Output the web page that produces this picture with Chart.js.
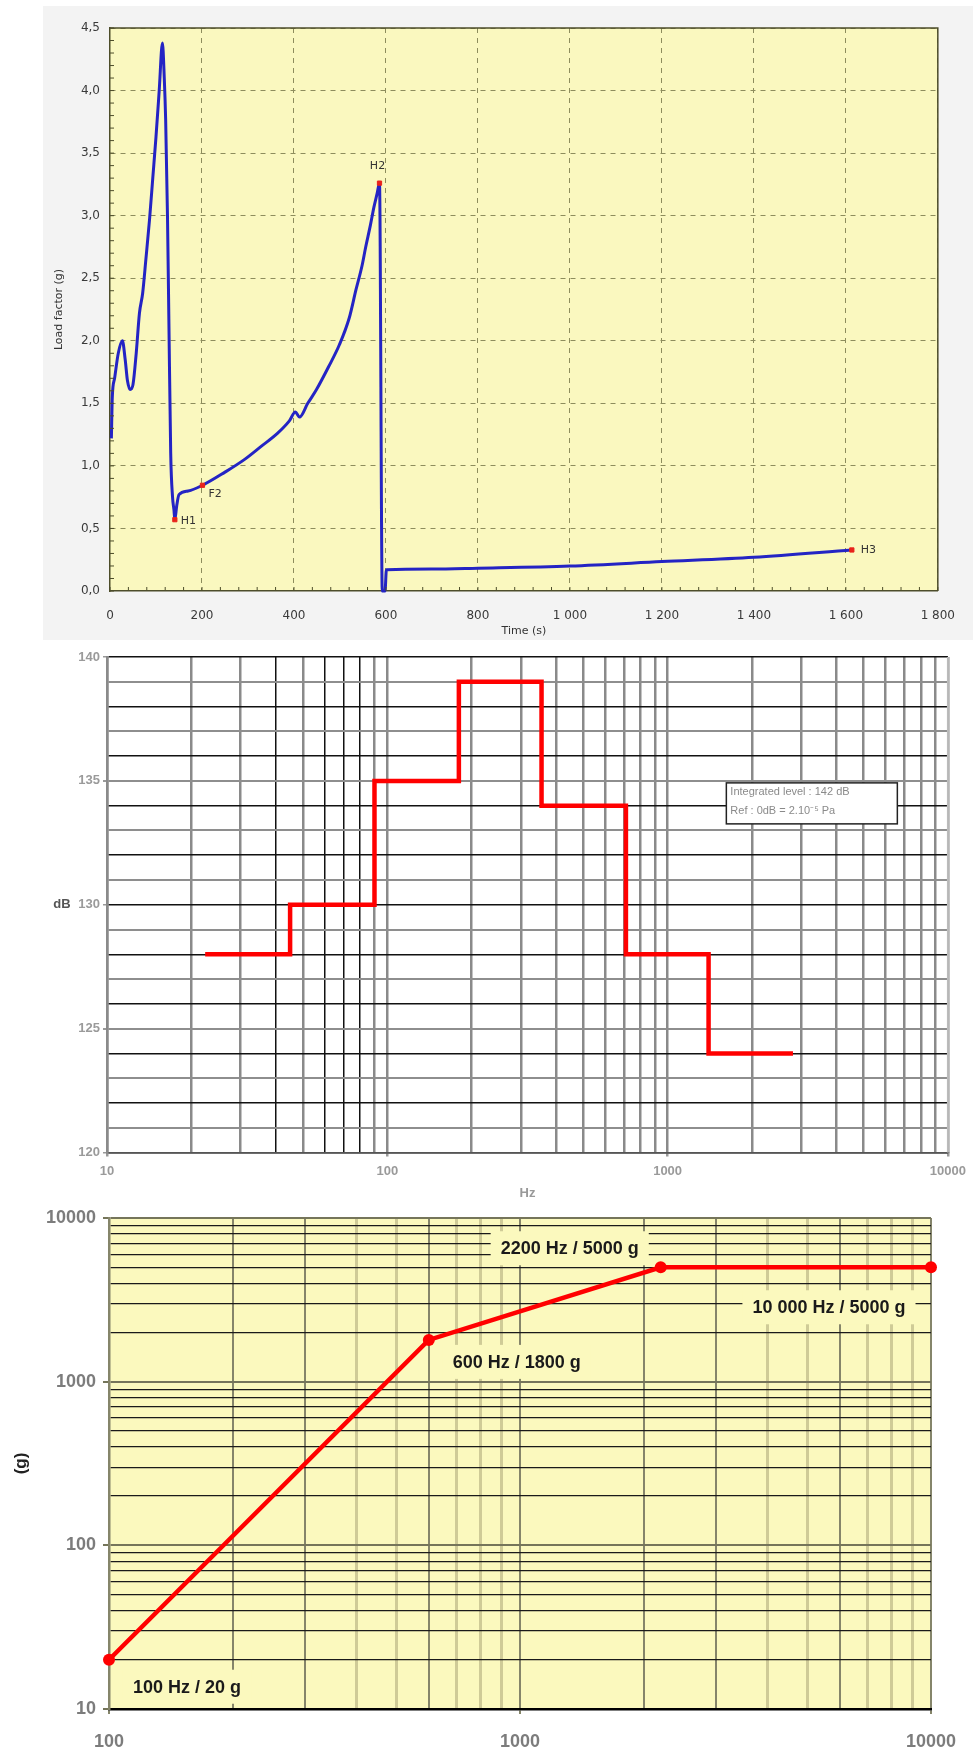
<!DOCTYPE html>
<html>
<head>
<meta charset="utf-8">
<title>Launch environment</title>
<script src="https://cdn.jsdelivr.net/npm/chart.js@4.4.1/dist/chart.umd.min.js"></script>
<style>
  html, body { margin: 0; padding: 0; background: #fff; }
  body { position: relative; width: 973px; height: 1753px; overflow: hidden; }
  .panel { position: absolute; left: 43px; top: 6px; width: 930px; height: 634px; background: #f3f3f3; }
  canvas { position: absolute; left: 0; }
  #loadChart { top: 0; }
  #noiseChart { top: 640px; }
  #shockChart { top: 1195px; }
</style>
</head>
<body>
<div class="panel"></div>
<canvas id="loadChart" width="973" height="645"></canvas>
<canvas id="noiseChart" width="973" height="570"></canvas>
<canvas id="shockChart" width="973" height="558"></canvas>
<script>
// flight load factor
const timeS = [3, 5, 10, 18, 27, 33, 38, 44, 50, 57, 64, 71, 78, 86, 93, 100, 107, 114, 118, 121,
    125, 128, 132, 136, 139, 141, 145, 150, 170, 201, 250, 292, 330, 364, 390, 403, 412, 430, 449, 475,
    499, 520, 535, 548, 556, 566, 574, 581, 586, 592, 598, 601, 700, 800, 1000, 1200, 1400, 1613];
const loadFactorG = [1.22, 1.55, 1.7, 1.9, 2.0, 1.85, 1.68, 1.61, 1.65, 1.9, 2.22, 2.38, 2.65, 2.97, 3.3, 3.63, 4.0, 4.38, 4.1, 3.77,
    3.0, 2.17, 1.1, 0.75, 0.65, 0.57, 0.68, 0.77, 0.8, 0.845, 0.95, 1.05, 1.16, 1.26, 1.36, 1.43, 1.39, 1.5, 1.61, 1.79,
    1.97, 2.18, 2.41, 2.6, 2.75, 2.92, 3.07, 3.18, 3.26, 0, 0, 0.17, 0.175, 0.182, 0.2, 0.235, 0.27, 0.328];
const eventNames = ['H1', 'F2', 'H2', 'H3'];
const eventTimes = [141, 201, 586, 1613];
const eventLoads = [0.57, 0.845, 3.26, 0.328];

// acoustic spectrum (octave bands)
const bandEdgesHz = [22.4, 45, 90, 180, 355, 710, 1400, 2800];
const bandLevelsDb = [128, 130, 135, 139, 134, 128, 124, 124];
const noiseDecades = [10, 100, 1000, 10000];

// shock response spectrum
const shockFreqHz = [100, 600, 2200, 10000];
const shockLevelG = [20, 1800, 5000, 5000];
const shockTexts = ['100 Hz / 20 g', '600 Hz / 1800 g', '2200 Hz / 5000 g', '10 000 Hz / 5000 g'];
const shockFreqDecades = [100, 1000, 10000];
const shockLevelDecades = [10, 100, 1000, 10000];

const SANS = '"Liberation Sans", Arial, sans-serif';
const VERDANA = '"DejaVu Sans", Verdana, sans-serif';

document.addEventListener('DOMContentLoaded', function() {
    Chart.defaults.font.family = SANS;
    initLoadChart();
    initNoiseChart();
    initShockChart();
});

function logTicks(decades) {
    const values = [];
    for (let i = 0; i < decades.length - 1; i++) {
        for (let m = 1; m <= 9; m++) values.push(m * decades[i]);
    }
    values.push(decades[decades.length - 1]);
    return values;
}

function mantissa(value) {
    return Math.round(value / Math.pow(10, Math.floor(Math.log10(value) + 1e-9)));
}

const plotBackground = {
    id: 'plotBackground',
    beforeDraw(chart, args, opts) {
        if (!opts.color) return;
        const { ctx, chartArea: a } = chart;
        ctx.save();
        ctx.fillStyle = opts.color;
        ctx.fillRect(a.left, a.top, a.width, a.height);
        ctx.restore();
    }
};

function initLoadChart() {
    const gridColor = '#8d8d5c';
    const axisColor = '#4d4d2a';

    const loadDecor = {
        id: 'loadDecor',
        afterDraw(chart) {
            const { ctx, chartArea: a, scales } = chart;
            ctx.save();
            ctx.strokeStyle = axisColor;
            ctx.lineWidth = 1.5;
            ctx.beginPath();
            ctx.moveTo(a.left, a.top);
            ctx.lineTo(a.right, a.top);
            ctx.lineTo(a.right, a.bottom);
            ctx.stroke();

            // small inner ticks along both axes
            ctx.lineWidth = 1;
            ctx.beginPath();
            for (let t = 0; t <= 1800; t += 40) {
                const x = scales.x.getPixelForValue(t);
                ctx.moveTo(x, a.bottom);
                ctx.lineTo(x, a.bottom - 4);
            }
            for (let i = 0; i <= 45; i++) {
                const y = scales.y.getPixelForValue(i / 10);
                ctx.moveTo(a.left, y);
                ctx.lineTo(a.left + 4, y);
            }
            ctx.stroke();

            const offsets = {
                H1: { dx: 6, dy: 1, align: 'left' },
                F2: { dx: 6, dy: 9, align: 'left' },
                H2: { dx: -2, dy: -17, align: 'center' },
                H3: { dx: 9, dy: 0, align: 'left' }
            };
            const meta = chart.getDatasetMeta(1);
            ctx.font = '11px ' + VERDANA;
            ctx.fillStyle = '#333';
            ctx.textBaseline = 'middle';
            eventNames.forEach(function(name, i) {
                const pt = meta.data[i];
                const o = offsets[name];
                ctx.textAlign = o.align;
                ctx.fillText(name, pt.x + o.dx, pt.y + o.dy);
            });
            ctx.restore();
        }
    };

    new Chart(document.getElementById('loadChart'), {
        type: 'line',
        data: {
            datasets: [{
                data: timeS.map((t, i) => ({ x: t, y: loadFactorG[i] })),
                borderColor: '#2424c4',
                borderWidth: 3,
                pointRadius: 0,
                cubicInterpolationMode: 'monotone',
                order: 1,
                clip: false
            }, {
                data: eventTimes.map((t, i) => ({ x: t, y: eventLoads[i] })),
                showLine: false,
                pointStyle: 'rect',
                pointRadius: 3,
                backgroundColor: '#e8231b',
                borderColor: '#e8231b',
                order: 0,
                clip: false
            }]
        },
        options: {
            responsive: false,
            animation: false,
            events: [],
            layout: { padding: { top: 28, right: 22, left: 0, bottom: 0 } },
            plugins: {
                legend: { display: false },
                tooltip: { enabled: false },
                plotBackground: { color: '#faf8bf' }
            },
            scales: {
                x: {
                    type: 'linear',
                    min: 0,
                    max: 1800,
                    afterFit: function(scale) { scale.height = 54; },
                    ticks: {
                        stepSize: 200,
                        padding: 18,
                        maxRotation: 0,
                        color: '#3a3a3a',
                        font: { family: VERDANA, size: 12 },
                        callback: v => v >= 1000 ? Math.floor(v / 1000) + ' ' + String(v % 1000).padStart(3, '0') : String(v)
                    },
                    grid: {
                        color: ctx => ctx.tick && ctx.tick.value === 0 ? 'transparent' : gridColor,
                        lineWidth: 1,
                        drawTicks: false
                    },
                    border: { color: axisColor, width: 1.5, dash: [5, 5] },
                    title: {
                        display: true,
                        text: 'Time (s)',
                        color: '#333',
                        font: { family: VERDANA, size: 11 },
                        padding: { top: 0, bottom: 7 }
                    }
                },
                y: {
                    min: 0,
                    max: 4.5,
                    afterFit: function(scale) { scale.width = 110; },
                    ticks: {
                        stepSize: 0.5,
                        padding: 10,
                        color: '#3a3a3a',
                        font: { family: VERDANA, size: 12 },
                        callback: v => v.toFixed(1).replace('.', ',')
                    },
                    grid: {
                        color: ctx => ctx.tick && ctx.tick.value === 0 ? 'transparent' : gridColor,
                        lineWidth: 1,
                        drawTicks: false
                    },
                    border: { color: axisColor, width: 1.5, dash: [5, 5] },
                    title: {
                        display: true,
                        text: 'Load factor (g)',
                        color: '#333',
                        font: { family: VERDANA, size: 11 },
                        padding: { top: 53, bottom: 0 }
                    }
                }
            }
        },
        plugins: [plotBackground, loadDecor]
    });
}

function initNoiseChart() {
    const noiseDecor = {
        id: 'noiseDecor',
        afterDraw(chart) {
            const { ctx, chartArea: a, scales } = chart;
            ctx.save();
            ctx.strokeStyle = '#bbbbbb';
            ctx.lineWidth = 2;
            ctx.beginPath();
            ctx.moveTo(a.right, a.top);
            ctx.lineTo(a.right, a.bottom);
            ctx.stroke();

            ctx.font = 'bold 13px ' + SANS;
            ctx.fillStyle = '#555';
            ctx.textAlign = 'center';
            ctx.textBaseline = 'middle';
            ctx.fillText('dB', 62, scales.y.getPixelForValue(130));

            const x0 = scales.x.getPixelForValue(1620);
            const y0 = scales.y.getPixelForValue(135) + 2;
            ctx.fillStyle = '#fff';
            ctx.fillRect(x0, y0, 171, 41);
            ctx.strokeStyle = '#222';
            ctx.lineWidth = 1.5;
            ctx.strokeRect(x0, y0, 171, 41);
            ctx.fillStyle = '#8a8a8a';
            ctx.font = '11px ' + SANS;
            ctx.textAlign = 'left';
            ctx.fillText('Integrated level : 142 dB', x0 + 4, y0 + 9);
            ctx.fillText('Ref : 0dB = 2.10\u207B\u2075 Pa', x0 + 4, y0 + 28);
            ctx.restore();
        }
    };

    new Chart(document.getElementById('noiseChart'), {
        type: 'line',
        data: {
            datasets: [{
                data: bandEdgesHz.map((f, i) => ({ x: f, y: bandLevelsDb[i] })),
                stepped: 'before',
                borderColor: '#ff0000',
                borderWidth: 4.5,
                borderJoinStyle: 'miter',
                borderCapStyle: 'butt',
                pointRadius: 0,
                clip: false
            }]
        },
        options: {
            responsive: false,
            animation: false,
            events: [],
            layout: { padding: { top: 17, right: 23, left: 0, bottom: 0 } },
            plugins: { legend: { display: false }, tooltip: { enabled: false } },
            scales: {
                x: {
                    type: 'logarithmic',
                    min: 10,
                    max: 10000,
                    afterBuildTicks: function(scale) {
                        scale.ticks = logTicks(noiseDecades).map(v => ({ value: v }));
                    },
                    afterFit: function(scale) { scale.height = 57.5; },
                    ticks: {
                        autoSkip: false,
                        maxRotation: 0,
                        padding: 7,
                        color: '#9a9a9a',
                        font: { size: 13, weight: 'bold' },
                        callback: v => noiseDecades.includes(v) ? String(v) : ''
                    },
                    grid: {
                        color: function(ctx) {
                            if (!ctx.tick) return '#888';
                            const v = ctx.tick.value;
                            return v < 100 && [4, 6, 7, 8].includes(mantissa(v)) ? '#111' : '#8a8a8a';
                        },
                        lineWidth: function(ctx) {
                            if (!ctx.tick) return 2;
                            const v = ctx.tick.value;
                            return v < 100 && [4, 6, 7, 8].includes(mantissa(v)) ? 1.5 : 2.5;
                        },
                        tickLength: 4,
                        tickColor: ctx => ctx.tick && noiseDecades.includes(ctx.tick.value) ? '#999' : 'transparent'
                    },
                    border: { color: '#555', width: 1.5 },
                    title: {
                        display: true,
                        text: 'Hz',
                        color: '#999',
                        font: { size: 13, weight: 'bold' },
                        padding: { top: 0, bottom: 9 }
                    }
                },
                y: {
                    min: 120,
                    max: 140,
                    afterFit: function(scale) { scale.width = 107; },
                    ticks: {
                        stepSize: 1,
                        autoSkip: false,
                        padding: 3,
                        color: '#9a9a9a',
                        font: { size: 13, weight: 'bold' },
                        callback: v => v % 5 === 0 ? String(v) : ''
                    },
                    grid: {
                        color: ctx => ctx.tick && ctx.tick.value % 2 === 0 ? '#111' : '#8e8e8e',
                        lineWidth: ctx => ctx.tick && ctx.tick.value % 2 === 0 ? 1.5 : 2,
                        tickLength: 4,
                        tickColor: ctx => ctx.tick && ctx.tick.value % 5 === 0 ? '#999' : 'transparent'
                    },
                    border: { color: '#8a8a8a', width: 2.5 }
                }
            }
        },
        plugins: [noiseDecor]
    });
}

function initShockChart() {
    const bg = '#fbf9be';

    const shockDecor = {
        id: 'shockDecor',
        beforeDatasetsDraw(chart) {
            const { ctx } = chart;
            const offsets = [[78, 27], [88, 22], [-91, -19], [-102, 40]];
            const meta = chart.getDatasetMeta(0);
            ctx.save();
            ctx.font = 'bold 18px ' + SANS;
            ctx.textAlign = 'center';
            ctx.textBaseline = 'middle';
            shockTexts.forEach(function(text, i) {
                const pt = meta.data[i];
                const cx = pt.x + offsets[i][0];
                const cy = pt.y + offsets[i][1];
                const w = ctx.measureText(text).width + 20;
                ctx.fillStyle = bg;
                ctx.fillRect(cx - w / 2, cy - 17, w, 34);
                ctx.fillStyle = '#1a1a1a';
                ctx.fillText(text, cx, cy + 1);
            });
            ctx.restore();
        }
    };

    new Chart(document.getElementById('shockChart'), {
        type: 'line',
        data: {
            datasets: [{
                data: shockFreqHz.map((f, i) => ({ x: f, y: shockLevelG[i] })),
                borderColor: '#ff0000',
                borderWidth: 4.5,
                pointRadius: 6,
                pointBackgroundColor: '#ff0000',
                pointBorderWidth: 0,
                tension: 0,
                clip: false
            }]
        },
        options: {
            responsive: false,
            animation: false,
            events: [],
            layout: { padding: { top: 23, right: 28, left: 0, bottom: 0 } },
            plugins: {
                legend: { display: false },
                tooltip: { enabled: false },
                plotBackground: { color: bg }
            },
            scales: {
                x: {
                    type: 'logarithmic',
                    min: 100,
                    max: 10000,
                    afterBuildTicks: function(scale) {
                        scale.ticks = logTicks(shockFreqDecades).map(v => ({ value: v }));
                    },
                    afterFit: function(scale) { scale.height = 44; },
                    ticks: {
                        autoSkip: false,
                        maxRotation: 0,
                        padding: 17,
                        color: '#7c7c7c',
                        font: { size: 18, weight: 'bold' },
                        callback: v => shockFreqDecades.includes(v) ? String(v) : ''
                    },
                    grid: {
                        color: ctx => ctx.tick && [4, 5, 7, 8, 9].includes(mantissa(ctx.tick.value)) ? '#cfcb97' : '#85856a',
                        lineWidth: ctx => ctx.tick && [4, 5, 7, 8, 9].includes(mantissa(ctx.tick.value)) ? 3 : 2,
                        tickLength: 5,
                        tickColor: ctx => ctx.tick && shockFreqDecades.includes(ctx.tick.value) ? '#85856a' : 'transparent'
                    },
                    border: { color: '#000', width: 2.5 }
                },
                y: {
                    type: 'logarithmic',
                    min: 10,
                    max: 10000,
                    afterBuildTicks: function(scale) {
                        scale.ticks = logTicks(shockLevelDecades).map(v => ({ value: v }));
                    },
                    afterFit: function(scale) { scale.width = 109; },
                    ticks: {
                        autoSkip: false,
                        padding: 7,
                        color: '#7c7c7c',
                        font: { size: 18, weight: 'bold' },
                        callback: v => shockLevelDecades.includes(v) ? String(v) : ''
                    },
                    grid: {
                        color: ctx => ctx.tick && shockLevelDecades.includes(ctx.tick.value) ? '#75755a' : '#1a1a1a',
                        lineWidth: ctx => ctx.tick && shockLevelDecades.includes(ctx.tick.value) ? 2 : 1.2,
                        tickLength: 6,
                        tickColor: ctx => ctx.tick && shockLevelDecades.includes(ctx.tick.value) ? '#75755a' : 'transparent'
                    },
                    border: { color: '#85856a', width: 2.5 },
                    title: {
                        display: true,
                        text: '(g)',
                        color: '#222',
                        font: { size: 17, weight: 'bold' },
                        padding: { top: 11, bottom: 0 }
                    }
                }
            }
        },
        plugins: [plotBackground, shockDecor]
    });
}
</script>
</body>
</html>
